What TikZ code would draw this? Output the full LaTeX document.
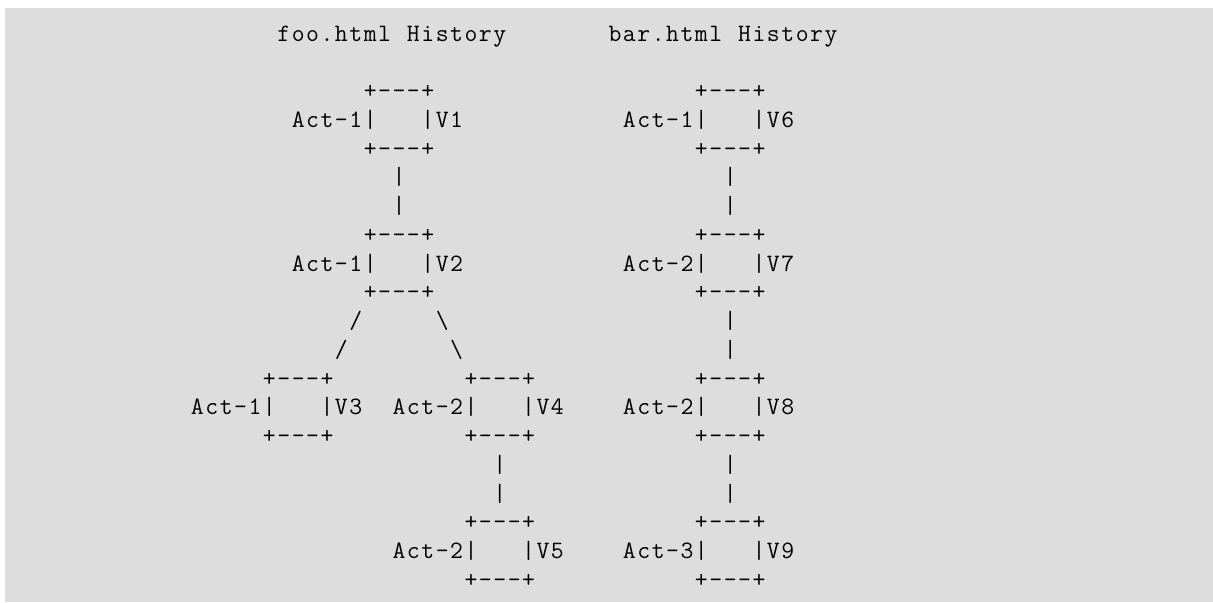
\documentclass[tikz,border=0pt]{standalone}
\makeatletter
\newcommand\cells[1]{\@tfor\cells@c:=#1\do{\makebox[7.2pt]{\cells@c}}}
\makeatother
\definecolor{pagegray}{HTML}{DDDDDD}

\begin{document}
\begin{tikzpicture}[x=7.2pt,y=-14.375pt,every node/.style={anchor=base west,inner sep=0pt,font=\ttfamily\fontsize{12.5}{13}\selectfont}]
	\useasboundingbox (-94.9pt,20.5pt) rectangle (511.6pt,-280.5pt);
	\fill[pagegray] (-92.4pt,16.5pt) rectangle (511.6pt,-280.5pt);
	\node (foo) at (6,0) {\cells{foo.html~History}};
	\node (bar) at (29,0) {\cells{bar.html~History}};
	% foo.html
	\node (v1t) at (12,2) {\cells{+---+}};
	\node (v1) at (7,3) {\cells{Act-1|~~~|V1}};
	\node (v1b) at (12,4) {\cells{+---+}};
	\node (v12a) at (14,5) {\cells{|}};
	\node (v12b) at (14,6) {\cells{|}};
	\node (v2t) at (12,7) {\cells{+---+}};
	\node (v2) at (7,8) {\cells{Act-1|~~~|V2}};
	\node (v2b) at (12,9) {\cells{+---+}};
	\node (v23a) at (11,10) {\cells{/}};
	\node (v23b) at (10,11) {\cells{/}};
	\node (v24a) at (17,10) {\cells{\textbackslash}};
	\node (v24b) at (18,11) {\cells{\textbackslash}};
	\node (v3t) at (5,12) {\cells{+---+}};
	\node (v3) at (0,13) {\cells{Act-1|~~~|V3}};
	\node (v3b) at (5,14) {\cells{+---+}};
	\node (v4t) at (19,12) {\cells{+---+}};
	\node (v4) at (14,13) {\cells{Act-2|~~~|V4}};
	\node (v4b) at (19,14) {\cells{+---+}};
	\node (v45a) at (21,15) {\cells{|}};
	\node (v45b) at (21,16) {\cells{|}};
	\node (v5t) at (19,17) {\cells{+---+}};
	\node (v5) at (14,18) {\cells{Act-2|~~~|V5}};
	\node (v5b) at (19,19) {\cells{+---+}};
	% bar.html
	\node (v6t) at (35,2) {\cells{+---+}};
	\node (v6) at (30,3) {\cells{Act-1|~~~|V6}};
	\node (v6b) at (35,4) {\cells{+---+}};
	\node (v67a) at (37,5) {\cells{|}};
	\node (v67b) at (37,6) {\cells{|}};
	\node (v7t) at (35,7) {\cells{+---+}};
	\node (v7) at (30,8) {\cells{Act-2|~~~|V7}};
	\node (v7b) at (35,9) {\cells{+---+}};
	\node (v78a) at (37,10) {\cells{|}};
	\node (v78b) at (37,11) {\cells{|}};
	\node (v8t) at (35,12) {\cells{+---+}};
	\node (v8) at (30,13) {\cells{Act-2|~~~|V8}};
	\node (v8b) at (35,14) {\cells{+---+}};
	\node (v89a) at (37,15) {\cells{|}};
	\node (v89b) at (37,16) {\cells{|}};
	\node (v9t) at (35,17) {\cells{+---+}};
	\node (v9) at (30,18) {\cells{Act-3|~~~|V9}};
	\node (v9b) at (35,19) {\cells{+---+}};
\end{tikzpicture}
\end{document}
